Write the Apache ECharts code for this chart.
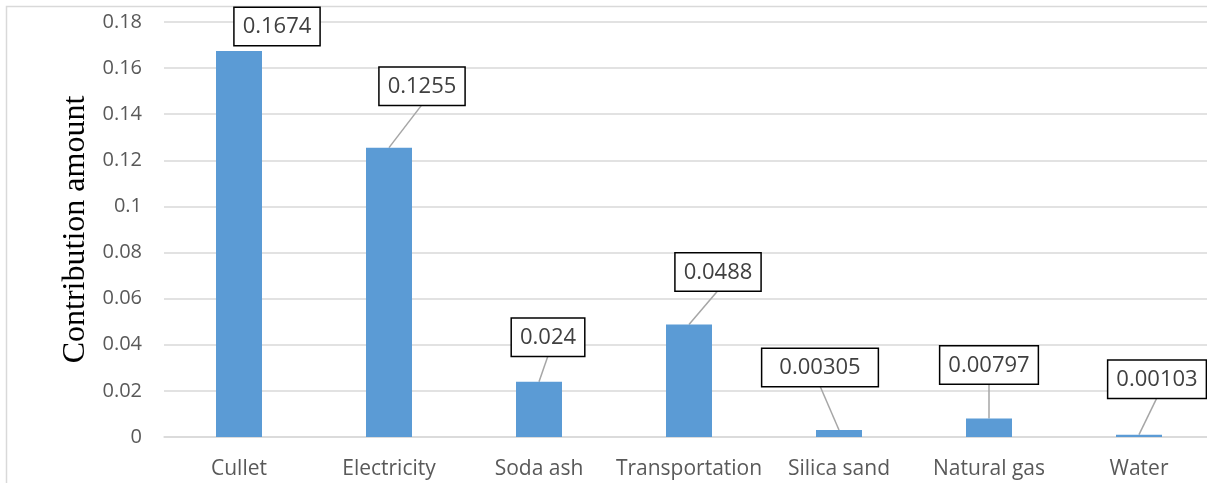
<!DOCTYPE html>
<html>
<head>
<meta charset="utf-8">
<script src="https://cdn.jsdelivr.net/npm/echarts@6/dist/echarts.min.js"></script>
<style>
  html, body { margin: 0; padding: 0; background: #ffffff; }
  #chart { width: 1207px; height: 483px; }
</style>
</head>
<body>
<div id="chart"></div>
<script>
// Contribution amount of each input
const categories = ['Cullet', 'Electricity', 'Soda ash', 'Transportation', 'Silica sand', 'Natural gas', 'Water'];
const contribution = [0.1674, 0.1255, 0.024, 0.0488, 0.00305, 0.00797, 0.00103];
const valueLabels = ['0.1674', '0.1255', '0.024', '0.0488', '0.00305', '0.00797', '0.00103'];

// Callout placement (pixel shift of the box from the top centre of each bar)
const calloutShift = [[38, -6], [33, -43], [9, -26], [29, -34], [-19, -44], [0, -35], [18, -37]];
const calloutLeader = [false, true, true, true, true, true, true];
const calloutPadX = [8, 8, 8, 8, 17, 8, 8];

const axisFont = '"Open Sans", "Noto Sans", sans-serif';

const chart = echarts.init(document.getElementById('chart'), null, { renderer: 'canvas' });

chart.setOption({
  animation: false,
  backgroundColor: '#ffffff',
  graphic: [{
    type: 'rect',
    shape: { x: 6.5, y: 6.5, width: 1400, height: 600 },
    style: { fill: 'none', stroke: '#d9d9d9', lineWidth: 1.5 },
    silent: true,
    z: -1
  }],
  grid: { left: 164, width: 1050, top: 22, bottom: 46, outerBoundsMode: 'none', containLabel: false },
  xAxis: {
    type: 'category',
    data: categories,
    axisLine: { show: true, lineStyle: { color: '#d9d9d9', width: 1.5 } },
    axisTick: { show: false },
    axisLabel: { interval: 0, color: '#595959', fontSize: 21, fontFamily: axisFont, margin: 22 }
  },
  yAxis: {
    type: 'value',
    min: 0,
    max: 0.18,
    interval: 0.02,
    name: 'Contribution amount',
    nameLocation: 'middle',
    nameGap: 68,
    nameTextStyle: { fontFamily: '"Liberation Serif", "Times New Roman", serif', fontSize: 32, color: '#000000' },
    axisLine: { show: false },
    axisTick: { show: false },
    axisLabel: {
      color: '#595959', fontSize: 20, fontFamily: axisFont, margin: 22,
      formatter: v => String(parseFloat(v.toFixed(2)))
    },
    splitLine: { lineStyle: { color: '#d9d9d9', width: 1.5 } }
  },
  series: [{
    // leader lines from the top centre of each bar to its callout box
    type: 'custom',
    z: 1,
    silent: true,
    data: contribution.map((v, i) => [i, v]),
    renderItem: (params, api) => {
      const i = params.dataIndex;
      if (!calloutLeader[i]) return null;
      const p = api.coord([api.value(0), api.value(1)]);
      return {
        type: 'line',
        shape: { x1: p[0], y1: p[1], x2: p[0] + calloutShift[i][0], y2: p[1] + calloutShift[i][1] },
        style: { stroke: '#a6a6a6', lineWidth: 1.5 }
      };
    }
  }, {
    type: 'bar',
    z: 2,
    barWidth: 46,
    data: contribution.map((v, i) => ({
      value: v,
      label: { padding: [8, calloutPadX[i], 7, calloutPadX[i]] }
    })),
    itemStyle: { color: '#5b9bd5' },
    label: {
      show: true,
      position: 'top',
      distance: 0,
      formatter: p => valueLabels[p.dataIndex],
      color: '#404040',
      fontSize: 22,
      lineHeight: 22,
      fontFamily: axisFont,
      backgroundColor: '#ffffff',
      borderColor: '#000000',
      borderWidth: 1.5
    },
    labelLayout: p => ({ dx: calloutShift[p.dataIndex][0], dy: calloutShift[p.dataIndex][1] })
  }]
});
</script>
</body>
</html>
